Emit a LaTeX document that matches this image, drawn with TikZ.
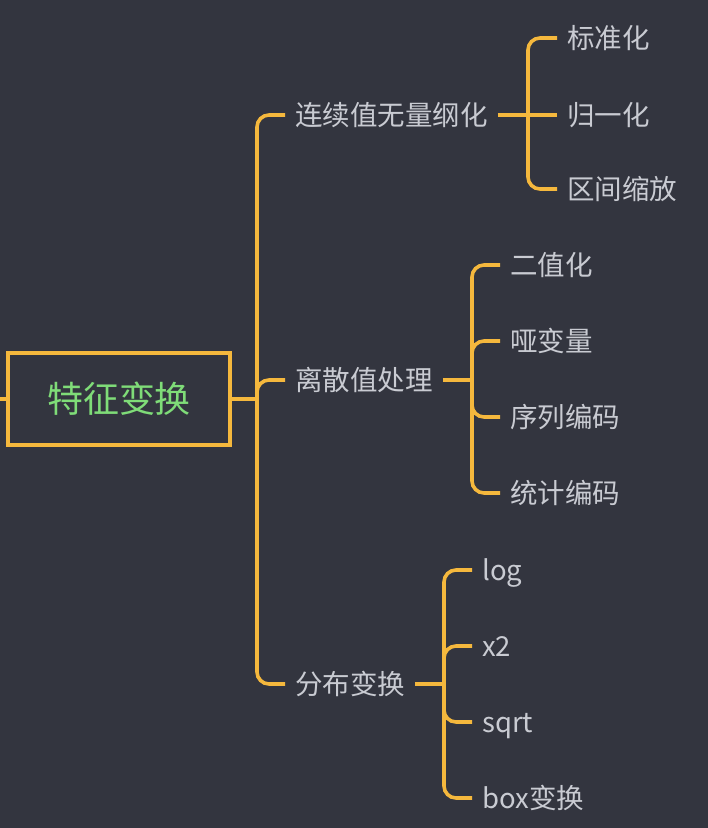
\documentclass[tikz,border=0pt]{standalone}
\usepackage{fontspec}
\newfontfamily\cjk{Noto Sans CJK SC}
\usepackage{xcolor}
\definecolor{bgdark}{HTML}{33353F}
\definecolor{branchorange}{HTML}{F5B83D}
\definecolor{labelgray}{HTML}{C9CBD2}
\definecolor{rootgreen}{HTML}{7FDC78}
\tikzset{branch/.style={draw=branchorange, line width=3.6pt, rounded corners=12pt},
  topic/.style={anchor=west, inner xsep=10pt, inner ysep=0pt, text=labelgray, font=\cjk\fontsize{27.5pt}{32pt}\selectfont, text height=20.8pt, text depth=0pt},
  rootbox/.style={draw=branchorange, line width=3.6pt, minimum width=222pt, minimum height=92pt, text=rootgreen, font=\cjk\fontsize{36pt}{42pt}\selectfont, text height=27.4pt, text depth=0pt}}

\begin{document}
\begin{tikzpicture}[x=1pt, y=-1pt]
\fill[bgdark] (0,0) rectangle (708,828);
\useasboundingbox (0,0) rectangle (708,828);
% root
\node[rootbox] (root) at (119,399) {特征变换};
\coordinate (lft) at (0,399);
\coordinate (j0) at (257,399);
\draw[branch] (lft) -- (root.west);
\draw[branch] (root.east) -- (j0);
% first level
\node[topic] (cont) at (285,115) {连续值无量纲化};
\node[topic] (disc) at (285,380) {离散值处理};
\node[topic] (dist) at (285,684) {分布变换};
\draw[branch] (j0) |- (cont.west);
\draw[branch] (j0) |- (disc.west);
\draw[branch] (j0) |- (dist.west);
% continuous values
\coordinate (j1) at (528,115);
\node[topic] (std) at (557,38) {标准化};
\node[topic] (norm) at (557,115) {归一化};
\node[topic] (scale) at (557,189) {区间缩放};
\draw[branch] (cont.east) -- (j1);
\draw[branch] (j1) |- (std.west);
\draw[branch] (j1) -- (norm.west);
\draw[branch] (j1) |- (scale.west);
% discrete values
\coordinate (j2) at (472,380);
\node[topic] (bin) at (500,265) {二值化};
\node[topic] (dummy) at (500,341) {哑变量};
\node[topic] (ordenc) at (500,417) {序列编码};
\node[topic] (cntenc) at (500,493) {统计编码};
\draw[branch] (disc.east) -- (j2);
\foreach \n in {bin,dummy,ordenc,cntenc}
  \draw[branch] (j2) |- (\n.west);
% distributions
\coordinate (j3) at (444,684);
\node[topic] (log) at (472,570) {log};
\node[topic] (sq) at (472,646) {x2};
\node[topic] (sqrt) at (472,722) {sqrt};
\node[topic] (boxcox) at (472,798) {box变换};
\draw[branch] (dist.east) -- (j3);
\foreach \n in {log,sq,sqrt,boxcox}
  \draw[branch] (j3) |- (\n.west);
\end{tikzpicture}
\end{document}
